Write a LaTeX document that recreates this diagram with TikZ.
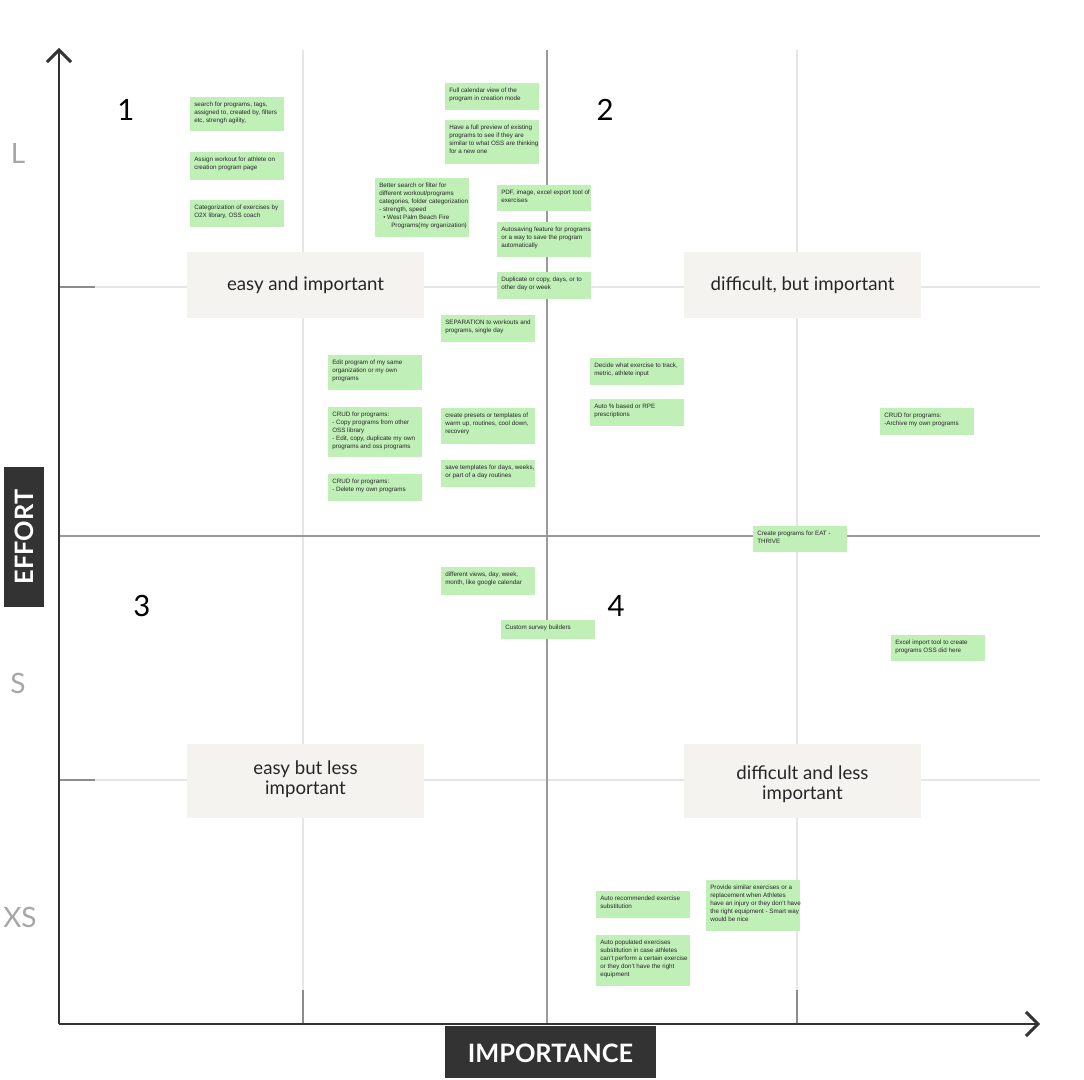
\documentclass[tikz,border=0pt]{standalone}
\usepackage{fontspec}
\setmainfont{Liberation Sans}
\newfontfamily\lato{Lato}
\usetikzlibrary{arrows.meta}
\definecolor{stickg}{HTML}{C0F0B8}
\definecolor{beige}{HTML}{F5F3EF}
\definecolor{axisc}{HTML}{333333}
\definecolor{gridl}{HTML}{E6E6E6}
\definecolor{gridm}{HTML}{9A9A9A}
\definecolor{tickc}{HTML}{8C8C8C}
\tikzset{
  stxt/.style={anchor=north west, inner sep=0pt, align=left, font=\fontsize{4.7pt}{6pt}\selectfont, text=black!85},
  qbox/.style={fill=beige},
  qtxt/.style={font=\lato\fontsize{14pt}{15pt}\selectfont, align=center, text=black!85},
  num/.style={font=\lato\fontsize{22pt}{24pt}\selectfont},
  lvl/.style={font=\lato\fontsize{21pt}{24pt}\selectfont, text=black!35},
  axis/.style={draw=axisc, line width=2.2pt},
  lightg/.style={draw=gridl, line width=2pt},
  medg/.style={draw=gridm, line width=2.2pt},
  tickm/.style={draw=tickc, line width=2.2pt},
  tag/.style={fill=axisc, text=white, font=\lato\bfseries\fontsize{19pt}{20pt}\selectfont}
}
\newcommand{\stk}[6]{\fill[stickg] (#2,#3) rectangle (#4,#5); \node[stxt] (#1) at (#2+4,#3+5) {#6};}
\begin{document}
\begin{tikzpicture}[x=0.75pt,y=-0.75pt]
\useasboundingbox (0,0) rectangle (1084,1080);
% grid
\draw[lightg] (303,50) -- (303,1024);
\draw[lightg] (797,50) -- (797,1024);
\draw[lightg] (59,287) -- (1040,287);
\draw[lightg] (59,780) -- (1040,780);
\draw[medg] (547,50) -- (547,1024);
\draw[medg] (59,536) -- (1040,536);
% ticks
\draw[tickm] (59,287) -- (95,287);
\draw[tickm] (59,780) -- (95,780);
\draw[tickm] (303,990) -- (303,1024);
\draw[tickm] (797,990) -- (797,1024);
% axes
\coordinate (o) at (59,1024);
\coordinate (ytop) at (59,48);
\coordinate (xend) at (1040,1024);
\draw[axis, -{Straight Barb[length=9pt,width=18pt,line width=2.2pt]}] (o) -- (ytop);
\draw[axis, -{Straight Barb[length=9pt,width=18pt,line width=2.2pt]}] (o) -- (xend);
% tags
\fill[axisc] (4,467) rectangle (44,607);
\node[tag, rotate=90] (effort) at (24,537) {EFFORT};
\fill[axisc] (445,1026) rectangle (656,1078);
\node[tag] (imp) at (550.5,1053) {IMPORTANCE};
% levels
\node[lvl] (lL) at (18,153) {L};
\node[lvl] (lS) at (18,683) {S};
\node[lvl] (lXS) at (20,917) {XS};
% numbers
\node[num] (n1) at (126,110) {1};
\node[num] (n2) at (605,110) {2};
\node[num] (n3) at (142,606) {3};
\node[num] (n4) at (616,606) {4};
% quadrant labels
\fill[qbox] (187,252) rectangle (424,318);
\node[qtxt] (q1) at (305.5,285) {easy and important};
\fill[qbox] (684,252) rectangle (921,318);
\node[qtxt] (q2) at (802.5,285) {difficult, but important};
\fill[qbox] (187,744) rectangle (424,818);
\node[qtxt] (q3) at (305.5,779) {easy but less\\important};
\fill[qbox] (684,744) rectangle (921,818);
\node[qtxt] (q4) at (802.5,784) {difficult and less\\important};
% stickies
\stk{s1}{190}{97}{284}{131}{search for programs, tags,\\assigned to, created by, filters\\etc, strengh agility,}
\stk{s2}{190}{152}{284}{180}{Assign workout for athlete on\\creation program page}
\stk{s3}{190}{200}{284}{227}{Categorization of exercises by\\O2X library, OSS coach}
\stk{s4}{445}{83}{539}{110}{Full calendar view of the\\program in creation mode}
\stk{s5}{445}{120}{539}{164}{Have a full preview of existing\\programs to see if they are\\similar to what OSS are thinking\\for a new one}
\stk{s6}{375}{178}{469}{237}{Better search or filter for\\different workout/programs\\categories, folder categorization\\- strength, speed\\\hspace*{3pt}\textbullet\ West Palm Beach Fire\\\hspace*{9pt}Programs(my organization)}
\stk{s7}{497}{185}{591}{211}{PDF, image, excel export tool of\\exercises}
\stk{s8}{497}{222}{591}{257}{Autosaving feature for programs\\or a way to save the program\\automatically}
\stk{s9}{497}{272}{591}{299}{Duplicate or copy, days, or to\\other day or week}
\stk{s10}{441}{315}{535}{342}{SEPARATION to workouts and\\programs, single day}
\stk{s11}{328}{355}{422}{390}{Edit program of my same\\organization or my own\\programs}
\stk{s12}{328}{407}{422}{457}{CRUD for programs:\\- Copy programs from other\\OSS library\\- Edit, copy, duplicate my own\\programs and oss programs}
\stk{s13}{328}{474}{422}{501}{CRUD for programs:\\- Delete my own programs}
\stk{s14}{441}{408}{535}{444}{create presets or templates of\\warm up, routines, cool down,\\recovery}
\stk{s15}{441}{460}{535}{487}{save templates for days, weeks,\\or part of a day routines}
\stk{s16}{590}{358}{684}{385}{Decide what exercise to track,\\metric, athlete input}
\stk{s17}{590}{399}{684}{426}{Auto \% based or RPE\\prescriptions}
\stk{s18}{880}{408}{974}{435}{CRUD for programs:\\-Archive my own programs}
\stk{s19}{753}{526}{847}{552}{Create programs for EAT -\\THRIVE}
\stk{s20}{441}{567}{535}{595}{different views, day, week,\\month, like google calendar}
\stk{s21}{501}{620}{595}{639}{Custom survey builders}
\stk{s22}{891}{635}{985}{661}{Excel import tool to create\\programs OSS did here}
\stk{s23}{596}{891}{690}{918}{Auto recommended exercise\\substitution}
\stk{s24}{706}{880}{800}{931}{Provide similar exercises or a\\replacement when Athletes\\have an injury or they don't have\\the right equipment - Smart way\\would be nice}
\stk{s25}{596}{935}{690}{986}{Auto populated exercises\\substitution in case athletes\\can't perform a certain exercise\\or they don't have the right\\equipment}
\end{tikzpicture}
\end{document}
